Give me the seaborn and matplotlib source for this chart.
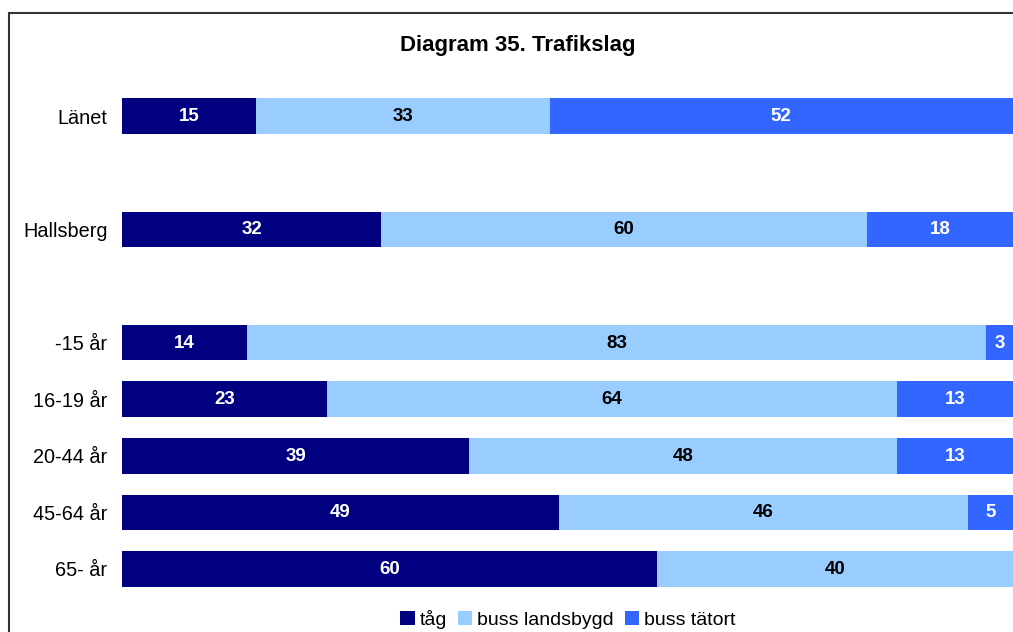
import numpy as np
import pandas as pd
import matplotlib.pyplot as plt
import seaborn as sns
from matplotlib.patches import Rectangle

# data (raw values, bars are drawn as 100 % stacked)
groups = ['Länet', ' ', 'Hallsberg', '  ', '-15 år', '16-19 år', '20-44 år', '45-64 år', '65- år']
series = ['tåg', 'buss landsbygd', 'buss tätort']
tag = [15, np.nan, 32, np.nan, 14, 23, 39, 49, 60]
buss_land = [33, np.nan, 60, np.nan, 83, 64, 48, 46, 40]
buss_tat = [52, np.nan, 18, np.nan, 3, 13, 13, 5, 0]
colors = ['#000080', '#99CCFF', '#3366FF']
text_colors = ['white', 'black', 'white']

sns.set_style('white')
plt.rcParams['font.family'] = ['Liberation Sans', 'DejaVu Sans']
plt.rcParams['text.color'] = 'black'
plt.rcParams['ytick.color'] = 'black'

df = pd.DataFrame({'grupp': groups, 'tåg': tag, 'buss landsbygd': buss_land, 'buss tätort': buss_tat})
vals = df[series]
pct = vals.div(vals.sum(axis=1), axis=0) * 100
cum = pct.cumsum(axis=1)

fig = plt.figure(figsize=(10.13, 6.32), dpi=100)
ax = fig.add_axes([122 / 1013, 0.055, 1 - 122 / 1013, 0.806])

# draw from the outermost layer inwards so the stack shows
for i in reversed(range(len(series))):
    d = pd.DataFrame({'grupp': df['grupp'], 'v': cum[series[i]]})
    sns.barplot(data=d, x='v', y='grupp', order=groups, orient='h', color=colors[i],
                saturation=1, width=0.63, ax=ax, label=series[i], errorbar=None,
                linewidth=0, edgecolor='none')

# value labels in the middle of each segment
for r, g in enumerate(groups):
    for i, s in enumerate(series):
        v = vals.loc[r, s]
        if np.isnan(v) or v == 0:
            continue
        left = cum.loc[r, s] - pct.loc[r, s]
        ax.text(left + pct.loc[r, s] / 2, r + 0.01, f'{v:.0f}', ha='center', va='center',
                color=text_colors[i], fontsize=13.5, fontweight='bold')

ax.set_xlim(0, 100)
ax.set_ylim(8.5, -0.5)
ax.set_xlabel('')
ax.set_ylabel('')
ax.set_xticks([])
ax.tick_params(axis='y', length=0, labelsize=14.3, pad=10.5, labelcolor='black')
for sp in ax.spines.values():
    sp.set_visible(False)

handles, labels = ax.get_legend_handles_labels()
order = [labels.index(s) for s in series]
ax.legend([handles[k] for k in order], series, loc='center', bbox_to_anchor=(568 / 1013, 0.02),
          bbox_transform=fig.transFigure, ncol=3, frameon=False, fontsize=14,
          handlelength=0.75, handleheight=0.75, handletextpad=0.25, columnspacing=0.55,
          borderpad=0.1)

fig.text(518 / 1013, 1 - 45 / 632, 'Diagram 35. Trafikslag', ha='center', va='center',
         fontsize=16, fontweight='bold', color='black')

# chart frame (cut off at right and bottom like the original)
fig.patches.append(Rectangle((9 / 1013, -0.1), 1.2, 1 - 13 / 632 + 0.1, transform=fig.transFigure,
                             fill=False, edgecolor='#333333', linewidth=1.5, zorder=0))

fig.savefig('out.png', dpi=100)
